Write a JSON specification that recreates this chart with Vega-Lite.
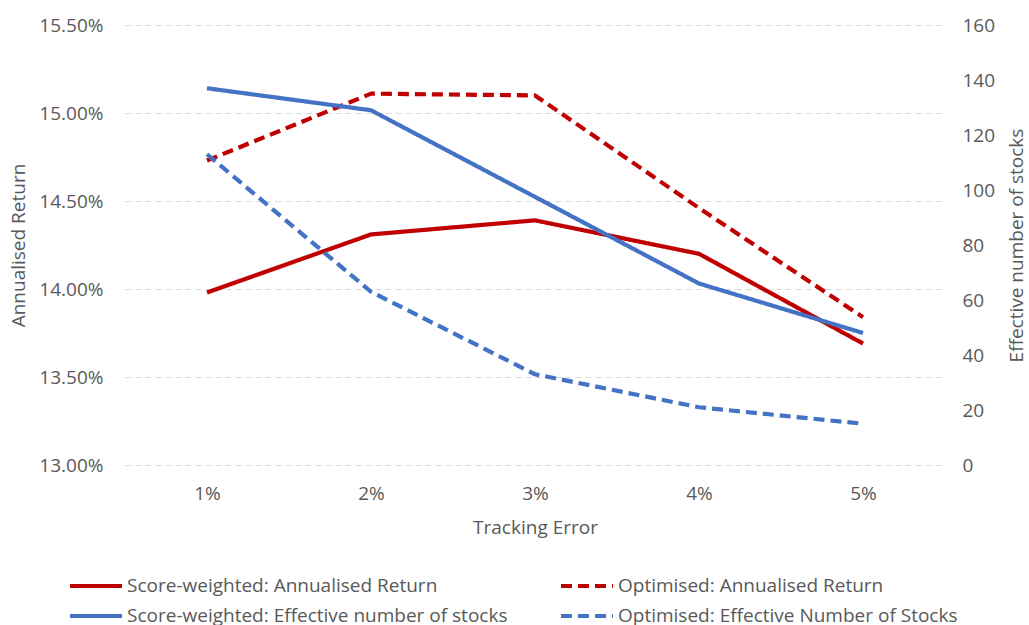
{
  "$schema": "https://vega.github.io/schema/vega-lite/v6.json",
  "width": 820,
  "height": 440,
  "autosize": "none",
  "padding": {"left": 125, "top": 25, "right": 84, "bottom": 160},
  "background": "white",
  "config": {
    "view": {"stroke": null},
    "font": "Open Sans",
    "axis": {
      "labelFont": "Open Sans",
      "titleFont": "Open Sans",
      "labelFontSize": 19,
      "titleFontSize": 19,
      "labelColor": "#595959",
      "titleColor": "#595959",
      "titleFontWeight": "normal",
      "gridColor": "#D9D9D9",
      "gridDash": [6, 4],
      "gridWidth": 1.2,
      "ticks": false,
      "domain": false
    },
    "legend": {
      "labelFont": "Open Sans",
      "labelFontSize": 19,
      "labelColor": "#595959",
      "labelLimit": 500
    }
  },
  "data": {
    "values": [
      {"te": "1%", "series": "Score-weighted: Annualised Return", "value": 0.1398},
      {"te": "2%", "series": "Score-weighted: Annualised Return", "value": 0.1431},
      {"te": "3%", "series": "Score-weighted: Annualised Return", "value": 0.1439},
      {"te": "4%", "series": "Score-weighted: Annualised Return", "value": 0.1420},
      {"te": "5%", "series": "Score-weighted: Annualised Return", "value": 0.1369},
      {"te": "1%", "series": "Optimised: Annualised Return", "value": 0.1473},
      {"te": "2%", "series": "Optimised: Annualised Return", "value": 0.1511},
      {"te": "3%", "series": "Optimised: Annualised Return", "value": 0.1510},
      {"te": "4%", "series": "Optimised: Annualised Return", "value": 0.1446},
      {"te": "5%", "series": "Optimised: Annualised Return", "value": 0.1384},
      {"te": "1%", "series": "Score-weighted: Effective number of stocks", "value": 137},
      {"te": "2%", "series": "Score-weighted: Effective number of stocks", "value": 129},
      {"te": "3%", "series": "Score-weighted: Effective number of stocks", "value": 97.5},
      {"te": "4%", "series": "Score-weighted: Effective number of stocks", "value": 66},
      {"te": "5%", "series": "Score-weighted: Effective number of stocks", "value": 48},
      {"te": "1%", "series": "Optimised: Effective Number of Stocks", "value": 113},
      {"te": "2%", "series": "Optimised: Effective Number of Stocks", "value": 63},
      {"te": "3%", "series": "Optimised: Effective Number of Stocks", "value": 33},
      {"te": "4%", "series": "Optimised: Effective Number of Stocks", "value": 21},
      {"te": "5%", "series": "Optimised: Effective Number of Stocks", "value": 15}
    ]
  },
  "encoding": {
    "x": {
      "field": "te",
      "type": "ordinal",
      "sort": ["1%", "2%", "3%", "4%", "5%"],
      "scale": {"type": "point", "padding": 0.5},
      "axis": {
        "title": "Tracking Error",
        "labelAngle": 0,
        "labelPadding": 19,
        "titlePadding": 15,
        "grid": false
      }
    },
    "color": {
      "field": "series",
      "type": "nominal",
      "scale": {
        "domain": [
          "Score-weighted: Annualised Return",
          "Optimised: Annualised Return",
          "Score-weighted: Effective number of stocks",
          "Optimised: Effective Number of Stocks"
        ],
        "range": ["#C00000", "#C00000", "#4472C4", "#4472C4"]
      },
      "legend": {
        "title": null,
        "orient": "none",
        "direction": "horizontal",
        "legendX": -57,
        "legendY": 546,
        "columns": 2,
        "columnPadding": 51,
        "rowPadding": 0,
        "clipHeight": 30,
        "symbolType": "stroke",
        "symbolSize": 2700,
        "symbolStrokeWidth": 4,
        "labelOffset": 3
      }
    },
    "strokeDash": {
      "field": "series",
      "type": "nominal",
      "scale": {
        "domain": [
          "Score-weighted: Annualised Return",
          "Optimised: Annualised Return",
          "Score-weighted: Effective number of stocks",
          "Optimised: Effective Number of Stocks"
        ],
        "range": [[1, 0], [11, 6], [1, 0], [11, 6]]
      },
      "legend": {
        "title": null,
        "orient": "none",
        "direction": "horizontal",
        "legendX": -57,
        "legendY": 546,
        "columns": 2,
        "columnPadding": 51,
        "rowPadding": 0,
        "clipHeight": 30,
        "symbolType": "stroke",
        "symbolSize": 2700,
        "symbolStrokeWidth": 4,
        "labelOffset": 3
      }
    }
  },
  "layer": [
    {
      "transform": [{"filter": "indexof(datum.series, 'Annualised Return') >= 0"}],
      "mark": {"type": "line", "strokeWidth": 4.2, "strokeJoin": "round"},
      "encoding": {
        "y": {
          "field": "value",
          "type": "quantitative",
          "scale": {"domain": [0.13, 0.155], "zero": false, "nice": false},
          "axis": {
            "title": "Annualised Return",
            "orient": "left",
            "format": ".2%",
            "values": [0.13, 0.135, 0.14, 0.145, 0.15, 0.155],
            "labelPadding": 22,
            "titlePadding": 10,
            "grid": true
          }
        }
      }
    },
    {
      "transform": [{"filter": "indexof(datum.series, 'Annualised Return') < 0"}],
      "mark": {"type": "line", "strokeWidth": 4.2, "strokeJoin": "round"},
      "encoding": {
        "y": {
          "field": "value",
          "type": "quantitative",
          "scale": {"domain": [0, 160], "nice": false},
          "axis": {
            "title": "Effective number of stocks",
            "orient": "right",
            "titleAngle": 270,
            "titleX": 71,
            "titleY": 220,
            "titleAlign": "center",
            "titleBaseline": "middle",
            "values": [0, 20, 40, 60, 80, 100, 120, 140, 160],
            "labelPadding": 17,
            "grid": false
          }
        }
      }
    }
  ],
  "resolve": {"scale": {"y": "independent"}}
}
